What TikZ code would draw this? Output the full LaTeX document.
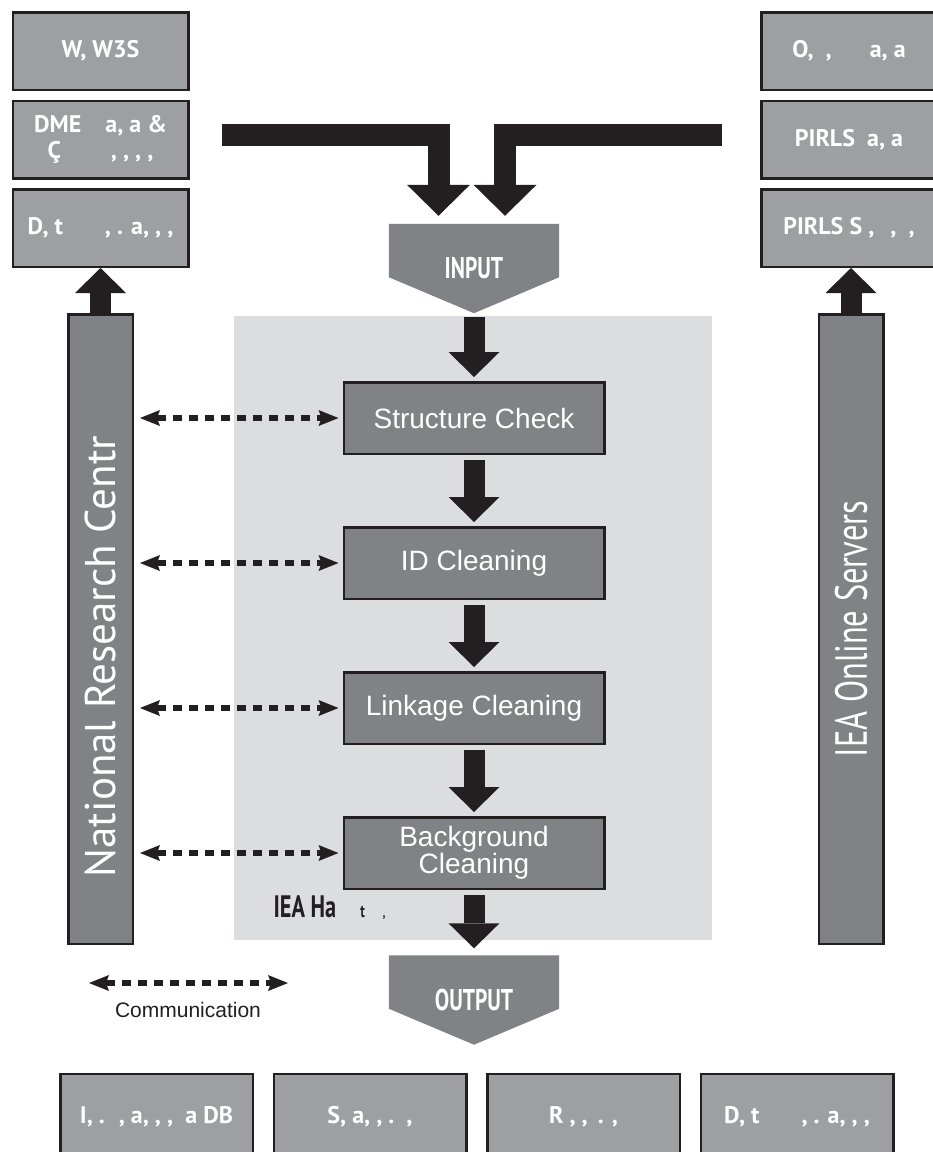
\documentclass[tikz,border=0pt]{standalone}
\usepackage{fontspec}
\setmainfont{Liberation Sans}
\newfontfamily\ptfont{PT Sans}
\newfontfamily\condfont[FakeStretch=0.72]{PT Sans}
\usetikzlibrary{arrows.meta, positioning, calc}
\definecolor{ink}{HTML}{231F20}
\definecolor{lightbox}{HTML}{9D9FA2}
\definecolor{darkbox}{HTML}{808285}
\definecolor{panelgrey}{HTML}{DCDDDE}
\pgfdeclarelayer{bg}
\pgfsetlayers{bg,main}

\begin{document}
\begin{tikzpicture}[x=1pt, y=-1pt,
    infobox/.style={draw=ink, line width=2.5pt, fill=lightbox, text=white, minimum width=175.5pt, minimum height=77.5pt, inner sep=2pt, align=center, font=\ptfont\bfseries\fontsize{24}{30}\selectfont},
    outbox/.style={infobox, minimum width=192.5pt, minimum height=86pt},
    stepbox/.style={draw=ink, line width=2.5pt, fill=darkbox, text=white, minimum width=260.5pt, minimum height=71.5pt, align=center, font=\fontsize{28}{26}\selectfont},
    sidebar/.style={draw=ink, line width=2.5pt, fill=darkbox, text=white, rotate=90, minimum width=629.5pt, minimum height=64.5pt},
    ioshape/.style={minimum width=170pt, minimum height=89pt, text=white, font=\condfont\bfseries\fontsize{30}{30}\selectfont},
    flowarrow/.style={ink, line width=21pt, -{Triangle[length=25pt, width=51pt, line width=0pt]}},
    feedarrow/.style={ink, line width=22pt, -{Triangle[length=31pt, width=63pt, line width=0pt]}},
    comm/.style={ink, line width=6pt, dash pattern=on 9pt off 7pt, {Stealth[length=20pt, width=16pt, inset=3pt, line width=0pt]}-{Stealth[length=20pt, width=16pt, inset=3pt, line width=0pt]}}]

    \useasboundingbox (0,0) rectangle (933,1152);
    \begin{pgfonlayer}{bg}
        \fill[white] (0,0) rectangle (933,1152);
        \fill[panelgrey] (234,316) rectangle (712,940);
    \end{pgfonlayer}

    % sources
    \node[infobox] (w3s) at (100.5,51) {W, W3S};
    \node[infobox, below=8.5pt of w3s] (dme) {DME\quad a, a \&\\[-4pt]Ç\hspace{50pt}, , , ,};
    \node[infobox, below=8.5pt of dme] (ldoc) {D, t\hspace{42pt}, . a, , ,};
    \node[infobox] (osrc) at (849,51) {O,\hspace{12pt},\hspace{38pt}a, a};
    \node[infobox, below=8.5pt of osrc] (pdata) {PIRLS\ \ a, a};
    \node[infobox, below=8.5pt of pdata] (psrv) {PIRLS S ,\hspace{16pt},\ \ ,};

    % side bars
    \node[sidebar, font=\ptfont\fontsize{43}{43}\selectfont] (nrc) at (100.5,629) {National Research Centr\hspace*{55pt}};
    \node[sidebar, font=\condfont\fontsize{45}{45}\selectfont] (ios) at (851,629) {IEA Online Servers};
    \draw[flowarrow] (nrc.east) -- (nrc.east |- ldoc.south);
    \draw[flowarrow] (ios.east) -- (ios.east |- psrv.south);

    % input
    \node[ioshape] (input) at (474,268.5) {INPUT};
    \begin{pgfonlayer}{bg}
        \fill[darkbox] (input.north west) -- (input.north east) -- ([yshift=36pt]input.south east)
            -- (input.south) -- ([yshift=36pt]input.south west) -- cycle;
    \end{pgfonlayer}
    \coordinate (feedl) at (222,135);
    \coordinate (feedr) at (722,135);
    \draw[feedarrow, shorten >=8pt] (feedl) -| ([xshift=-35.5pt]input.north);
    \draw[feedarrow, shorten >=8pt] (feedr) -| ([xshift=31pt]input.north);

    % cleaning steps
    \node[stepbox] (sc) at (474,418) {Structure Check};
    \node[stepbox, below=71pt of sc] (idc) {ID Cleaning};
    \node[stepbox, below=71pt of idc] (lkc) {Linkage Cleaning};
    \node[stepbox, below=71pt of lkc] (bgc) {Background\\Cleaning};
    \draw[flowarrow, shorten <=4pt, shorten >=4pt] (input.south) -- (sc.north);
    \draw[flowarrow, shorten <=5pt, shorten >=4pt] (sc.south) -- (idc.north);
    \draw[flowarrow, shorten <=5pt, shorten >=4pt] (idc.south) -- (lkc.north);
    \draw[flowarrow, shorten <=5pt, shorten >=4pt] (lkc.south) -- (bgc.north);
    \foreach \s in {sc, idc, lkc, bgc}
        \draw[comm, shorten <=6pt, shorten >=4pt] (nrc.south |- \s.west) -- (\s.west);

    \node[anchor=base west, text=ink, font=\condfont\bfseries\fontsize{31}{31}\selectfont] (hqlabel) at (270,917)
        {IEA Ha\hspace{24pt}{\fontsize{18}{18}\selectfont t}\hspace{18pt}{\fontsize{14}{14}\selectfont ,}};

    % output
    \node[ioshape] (output) at (474,1000) {OUTPUT};
    \begin{pgfonlayer}{bg}
        \fill[darkbox] (output.north west) -- (output.north east) -- ([yshift=36pt]output.south east)
            -- (output.south) -- ([yshift=36pt]output.south west) -- cycle;
    \end{pgfonlayer}
    \draw[flowarrow, shorten <=5pt, shorten >=7pt] (bgc.south) -- (output.north);

    % legend
    \coordinate (legl) at (89,983);
    \coordinate (legr) at (288,983);
    \draw[comm] (legl) -- (legr);
    \node[text=ink, font=\fontsize{21}{21}\selectfont] (commlabel) at (188,1010) {Communication};

    % products
    \node[outbox] (idb) at (156.5,1117) {I, .\hspace{14pt}, a, , ,\ \ a DB};
    \node[outbox, right=18.5pt of idb] (sdoc) {S, a, , .\ \ ,};
    \node[outbox, right=18.5pt of sdoc] (rep) {R\hspace{6pt}, ,\hspace{10pt}. ,};
    \node[outbox, right=18.5pt of rep] (ddoc) {D, t\hspace{42pt}, . a, , ,};
\end{tikzpicture}
\end{document}
